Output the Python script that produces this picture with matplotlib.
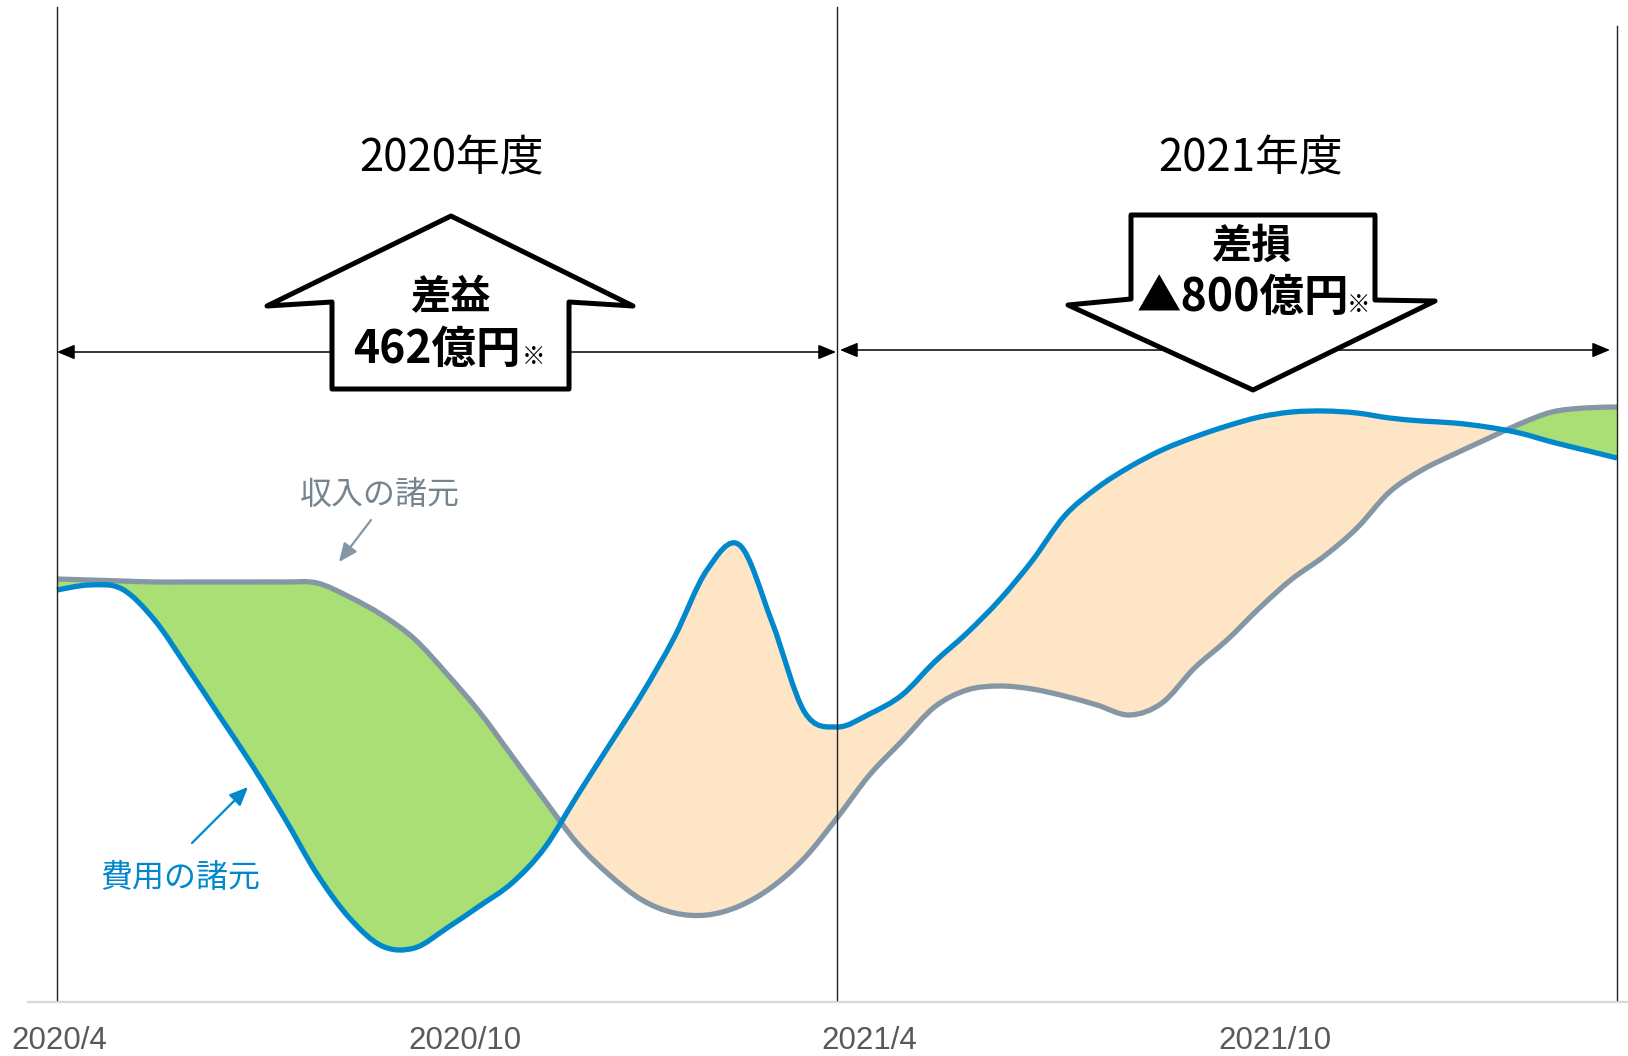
import matplotlib
matplotlib.use("Agg")
import matplotlib.pyplot as plt
from matplotlib.patches import Polygon, FancyArrowPatch, PathPatch
from matplotlib.path import Path
import numpy as np

plt.rcParams['font.family'] = ['Noto Sans CJK JP', 'DejaVu Sans']

# ---------------- data ----------------
# x: months elapsed since 2020/4 (half-month steps); y: arbitrary units (chart has no value axis)
months = np.arange(0, 24.5, 0.5)

revenue = [423, 422, 421, 420, 420, 420, 420, 420, 419, 405,
           387, 363, 328, 290, 246, 202, 159, 127, 102, 89,
           87, 96, 115, 144, 184, 227, 261, 295, 312, 316,
           313, 306, 297, 287, 299, 334, 362, 394, 423, 446,
           474, 510, 532, 548, 563, 578, 590, 594, 595]

cost = [412, 417, 413, 382, 335, 286, 237, 184, 128, 84,
        56, 54, 74, 96, 119, 154, 206, 257, 308, 365,
        432, 457, 380, 290, 275, 288, 307, 340, 369, 402,
        441, 486, 514, 535, 552, 565, 576, 585, 590, 591,
        589, 584, 581, 579, 575, 569, 560, 552, 544]

tick_labels = ['2020/4', '2020/10', '2021/4', '2021/10']
tick_pos = [0.03, 6.28, 12.5, 18.74]

year_bounds = [0, 12, 24]
fy_labels = ['2020年度', '2021年度']
result_titles = ['差益', '差損']
result_values = ['462億円', '▲800億円']
series_labels = ['収入の諸元', '費用の諸元']

# ---------------- style ----------------
C_BLUE = '#0087cc'
C_GRAY = '#8597a4'
C_GREEN = '#a9df75'
C_ORANGE = '#fde5c6'
C_TICK = '#595959'
C_GRAYTXT = '#74858f'

W, H = 1628, 1056
fig = plt.figure(figsize=(W / 100, H / 100), dpi=100)
ax = fig.add_axes([0, 0, 1, 1])


# layout helpers (reference pixel -> data units), used only for annotations
def mx(px):
    return (px - 57) / 65.0


def vy(py):
    return 1002 - py


ax.set_xlim(mx(0), mx(W))
ax.set_ylim(vy(H), vy(0))
ax.axis('off')


def smooth_curve(x, y):
    """Smoothed-line rendering (like a spreadsheet 'smoothed line'):
    cubic Bezier segments through every data point."""
    pts = np.column_stack([np.asarray(x, float), np.asarray(y, float)])
    n = len(pts)
    verts = [pts[0]]
    codes = [Path.MOVETO]
    for i in range(n - 1):
        p0 = pts[i - 1] if i > 0 else pts[i]
        p1 = pts[i]
        p2 = pts[i + 1]
        p3 = pts[i + 2] if i + 2 < n else pts[i + 1]
        verts += [p1 + (p2 - p0) / 6.0, p2 - (p3 - p1) / 6.0, p2]
        codes += [Path.CURVE4] * 3
    return verts, codes


def closed_to(verts, codes, level):
    v = list(verts) + [(verts[-1][0], level), (verts[0][0], level), verts[0]]
    c = list(codes) + [Path.LINETO, Path.LINETO, Path.CLOSEPOLY]
    return Path(v, c)


rv, rc = smooth_curve(months, revenue)
cv, cc = smooth_curve(months, cost)
y_lo, y_hi = vy(H) - 50, vy(0) + 50

# green: revenue above cost ; orange: cost above revenue
green = PathPatch(closed_to(rv, rc, y_lo), facecolor=C_GREEN, lw=0, zorder=1)
ax.add_patch(green)
green.set_clip_path(PathPatch(closed_to(cv, cc, y_hi), transform=ax.transData))
orange = PathPatch(closed_to(cv, cc, y_lo), facecolor=C_ORANGE, lw=0, zorder=1)
ax.add_patch(orange)
orange.set_clip_path(PathPatch(closed_to(rv, rc, y_hi), transform=ax.transData))

ax.add_patch(PathPatch(Path(rv, rc), fill=False, edgecolor=C_GRAY, lw=3.8,
                       capstyle='butt', joinstyle='round', zorder=3))
ax.add_patch(PathPatch(Path(cv, cc), fill=False, edgecolor=C_BLUE, lw=3.8,
                       capstyle='butt', joinstyle='round', zorder=4))

# baseline (category axis line)
ax.plot([mx(27), mx(W)], [0, 0], color='#d9d9d9', lw=1.6, zorder=2,
        solid_capstyle='butt')
for p, t in zip(tick_pos, tick_labels):
    ax.text(p, vy(1041), t, ha='center', va='center', fontsize=22.5,
            color=C_TICK, family=['Liberation Sans', 'DejaVu Sans'])

# fiscal-year separators
tops = [vy(7), vy(7), vy(26)]
for b, t in zip(year_bounds, tops):
    ax.plot([b, b], [vy(1000), t], color='#222222', lw=1.0, zorder=5)

# fiscal-year spans
for a, b, yv in [(year_bounds[0], mx(836), vy(352)),
                 (mx(840), mx(1610), vy(350))]:
    arr = FancyArrowPatch((a, yv), (b, yv),
                          arrowstyle='<|-|>,head_length=0.6,head_width=0.25',
                          mutation_scale=18, lw=1.1, color='black',
                          shrinkA=0, shrinkB=0, zorder=6)
    ax.add_patch(arr)

fy_centers = [(mx(452), vy(158)), (mx(1251), vy(158))]
for (x, y), t in zip(fy_centers, fy_labels):
    ax.text(x, y, t, ha='center', va='center', fontsize=31.5, color='black',
            zorder=8)

# block arrows
up_px = [(451, 216), (633, 306), (569, 302), (569, 389), (332, 389),
         (332, 302), (267, 306)]
down_px = [(1131, 215), (1375, 215), (1375, 300), (1435, 301), (1253, 390),
           (1068, 305), (1131, 299)]
for pts in (up_px, down_px):
    poly = Polygon([(mx(x), vy(y)) for x, y in pts], closed=True,
                   facecolor='white', edgecolor='black', lw=3.6,
                   joinstyle='round', zorder=7)
    ax.add_patch(poly)

# result texts
title_pos = [(mx(450), vy(298)), (mx(1251), vy(246))]
value_pos = [(mx(437), vy(350)), (mx(1243), vy(298))]
mark_pos = [(mx(534), vy(357)), (mx(1359), vy(305))]
for i in range(2):
    ax.text(*title_pos[i], result_titles[i], ha='center', va='center',
            fontsize=29, fontweight='bold', color='black', zorder=8)
    ax.text(*value_pos[i], result_values[i], ha='center', va='center',
            fontsize=32, fontweight='bold', color='black', zorder=8)
    ax.text(*mark_pos[i], '※', ha='center', va='center',
            fontsize=17, fontweight='bold', color='black', zorder=8)

# series labels with pointers
ax.text(mx(380), vy(495), series_labels[0], ha='center', va='center',
        fontsize=23, color=C_GRAYTXT, zorder=8)
ax.annotate('', xy=(mx(339), vy(562)), xytext=(mx(371), vy(520)),
            arrowprops=dict(arrowstyle='-|>,head_length=0.8,head_width=0.35',
                            mutation_scale=14, lw=1.6, color=C_GRAY,
                            shrinkA=0, shrinkB=0), zorder=8)
ax.text(mx(180), vy(878), series_labels[1], ha='center', va='center',
        fontsize=23, color=C_BLUE, zorder=8)
ax.annotate('', xy=(mx(248), vy(787)), xytext=(mx(192), vy(843)),
            arrowprops=dict(arrowstyle='-|>,head_length=0.8,head_width=0.35',
                            mutation_scale=14, lw=1.6, color=C_BLUE,
                            shrinkA=0, shrinkB=0), zorder=8)

fig.savefig('out.png', dpi=100)
